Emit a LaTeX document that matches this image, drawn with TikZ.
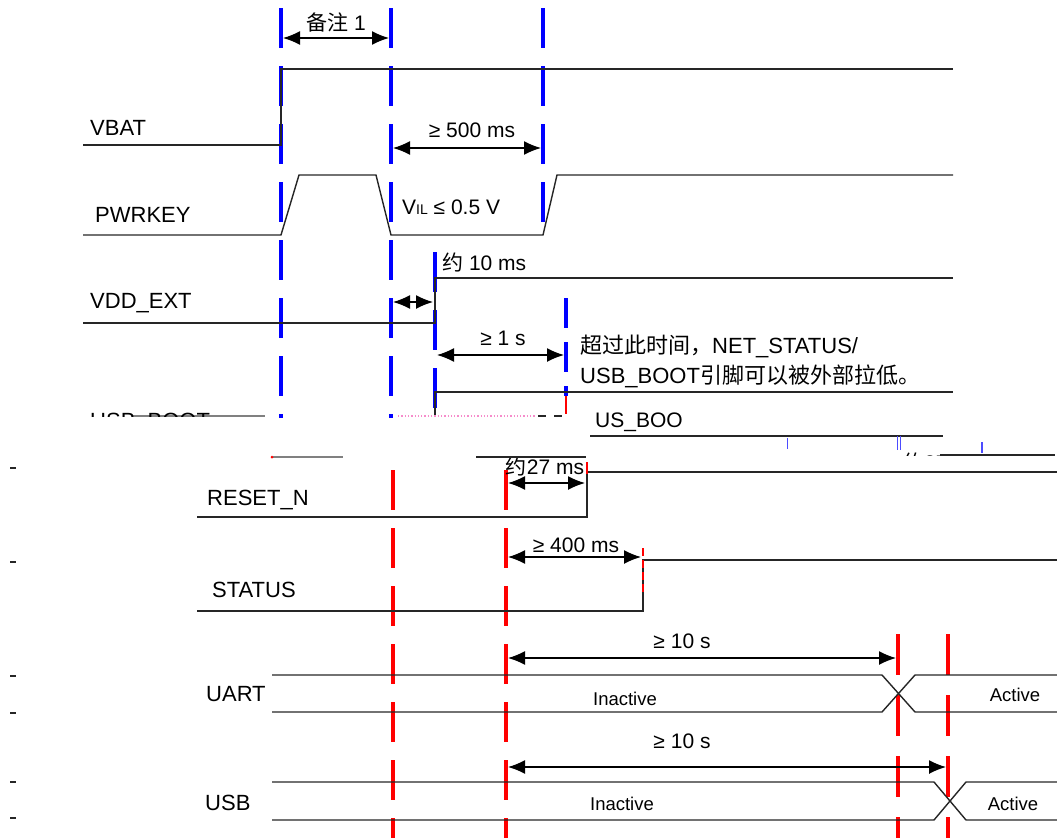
\documentclass[tikz,border=0pt]{standalone}
\usepackage{fontspec}
\setmainfont{Liberation Sans}
\newfontfamily\cjk{Noto Sans CJK SC}
\usetikzlibrary{arrows.meta}

\begin{document}
\begin{tikzpicture}[x=1pt, y=-1pt,
    sig/.style={draw=black!85, line width=1.4pt},
    bluemark/.style={draw=blue, line width=4pt, dash pattern=on 40pt off 18pt},
    redmark/.style={draw=red, line width=3.5pt, dash pattern=on 40pt off 18pt},
    span/.style={{Latex[length=17pt,width=14pt]}-{Latex[length=17pt,width=14pt]}, line width=1.4pt},
    sig name/.style={anchor=west, inner sep=0pt, font=\fontsize{22}{24}\selectfont},
    time/.style={inner sep=0pt, font=\fontsize{21}{23}\selectfont},
    state/.style={inner sep=0pt, font=\fontsize{18.5}{20}\selectfont}]

  \useasboundingbox (0,0) rectangle (1057,838);

  % upper part: blue time marks
  \draw[bluemark] (281,8) -- (281,418);
  \draw[bluemark] (391,8) -- (391,418);
  \draw[bluemark] (543,8) -- (543,236);
  \draw[bluemark] (435,252) -- (435,412);
  \draw[bluemark, dash pattern=on 30pt off 14pt] (566,298) -- (566,396);
  \draw[red, line width=1.5pt] (566,396) -- (566,414);

  % upper signals
  \node[sig name] (vbat) at (90,128) {VBAT};
  \node[sig name] (pwrkey) at (95,215) {PWRKEY};
  \node[sig name] (vddext) at (90,303) {VDD\_EXT};

  \draw[sig] (83,145) -- (281,145) -- (281,69) -- (953,69);
  \draw[sig] (83,235) -- (281,235) -- (299,175) -- (376,175) -- (391,235)
             -- (543,235) -- (557,175) -- (953,175);
  \draw[sig] (83,323) -- (435,323) -- (435,278) -- (953,278);
  \draw[sig] (435,416) -- (435,392) -- (953,392);

  \draw[span] (283,38) -- (389,38);
  \node[time] (note1) at (336,22) {{\cjk 备注} 1};
  \draw[span] (393,148) -- (541,148);
  \node[time] (t500) at (472,130) {≥ 500 ms};
  \node[time, anchor=west] (vil) at (402,207) {V{\fontsize{14}{14}\selectfont IL} ≤ 0.5 V};
  \node[time, anchor=west] (t10) at (442,262) {{\cjk 约} 10 ms};
  \draw[span] (393,302) -- (433,302);
  \draw[span] (437,355) -- (564,355);
  \node[time] (t1s) at (503,338) {≥ 1 s};
  \node[time, anchor=west, font=\fontsize{22}{24}\selectfont] (hint1) at (580,346)
       {{\cjk 超过此时间，}NET\_STATUS/};
  \node[time, anchor=west, font=\fontsize{22}{24}\selectfont] (hint2) at (580,376)
       {USB\_BOOT{\cjk 引脚可以被外部拉低。}};

  % cut band between the two pictures
  \draw[sig, black!50] (132,416) -- (265,416);
  \begin{scope}
    \clip (85,405) rectangle (215,416);
    \node[sig name] (bootcut) at (90,423) {USB\_BOOT};
  \end{scope}
  \draw[magenta!45, dotted, line width=1.3pt] (398,416) -- (536,416);
  \draw[sig, dash pattern=on 8pt off 8pt] (538,416) -- (562,416);
  \node[time, anchor=west] (boocut) at (595,422) {US\_BOO};
  \draw[sig] (590,436) -- (943,436);
  \draw[blue!70, line width=1pt] (787,438) -- (787,449);
  \draw[blue!70, line width=1pt] (897,436) -- (897,450);
  \draw[blue!70, line width=1pt] (900,436) -- (900,450);
  \draw[blue!70, line width=1.5pt] (982,442) -- (982,453);
  \begin{scope}
    \clip (900,440) rectangle (950,455);
    \node[time, anchor=west] (t27cut) at (903,462) {{\cjk 约}27};
  \end{scope}
  \draw[sig] (940,455) -- (1055,455);
  \draw[sig, black!50] (273,457) -- (343,457);
  \fill[red] (272,457) circle (1.5pt);
  \draw[sig] (476,457) -- (586,457);

  % lower part: red time marks
  \draw[redmark] (393,470) -- (393,838);
  \draw[redmark] (506,470) -- (506,838);
  \draw[redmark, dash pattern=on 41pt off 20pt] (898,634) -- (898,838);
  \draw[redmark, dash pattern=on 41pt off 20pt] (948,634) -- (948,838);

  \foreach \y in {468,562,676,713,782,818}
    \draw[sig] (10,\y) -- (16,\y);

  % lower signals
  \node[sig name] (resetn) at (207,500) {RESET\_N};
  \node[sig name] (status) at (212,590) {STATUS};
  \node[sig name] (uart) at (206,694) {UART};
  \node[sig name] (usb) at (205,803) {USB};

  \draw[sig] (197,517) -- (587,517) -- (587,472) -- (1057,472);
  \draw[red, line width=1.5pt] (587,462) -- (587,474);
  \draw[sig] (197,611) -- (643,611) -- (643,560) -- (1057,560);
  \draw[red, line width=1.5pt, dash pattern=on 8pt off 4pt] (643,548) -- (643,592);

  \draw[sig] (272,675) -- (882,675) -- (915,712) -- (1057,712);
  \draw[sig] (272,712) -- (882,712) -- (915,675) -- (1057,675);
  \draw[sig] (272,782) -- (934,782) -- (966,820) -- (1057,820);
  \draw[sig] (272,820) -- (934,820) -- (966,782) -- (1057,782);

  \begin{scope}
    \clip (480,458) rectangle (610,480);
    \node[time] (t27) at (545,466) {{\cjk 约}27 ms};
  \end{scope}
  \draw[span] (508,483) -- (585,483);
  \draw[span] (508,557) -- (641,557);
  \node[time] (t400) at (576,545) {≥ 400 ms};
  \draw[span] (508,658) -- (896,658);
  \node[time] (t10a) at (682,641) {≥ 10 s};
  \draw[span] (508,767) -- (946,767);
  \node[time] (t10b) at (682,741) {≥ 10 s};

  \node[state] (uartoff) at (625,699) {Inactive};
  \node[state] (uarton) at (1015,695) {Active};
  \node[state] (usboff) at (622,804) {Inactive};
  \node[state] (usbon) at (1013,804) {Active};
\end{tikzpicture}
\end{document}
